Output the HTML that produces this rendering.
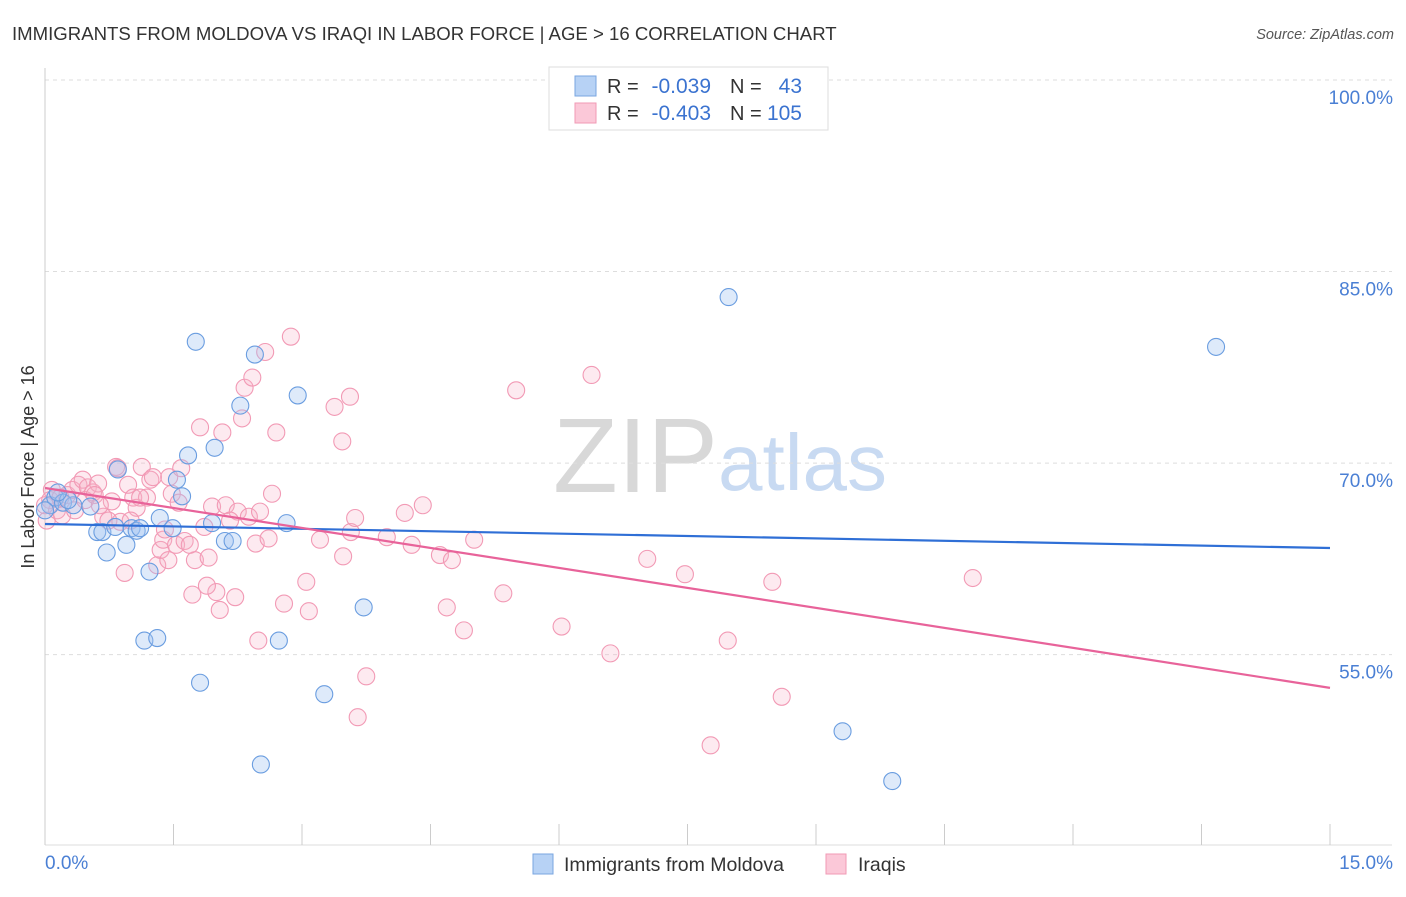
<!DOCTYPE html>
<html><head><meta charset="utf-8"><style>
body{margin:0;background:#fff;font-family:"Liberation Sans",sans-serif;}
svg text{font-family:"Liberation Sans",sans-serif;}
</style></head><body>
<svg width="1406" height="892" viewBox="0 0 1406 892">
<text x="12" y="40" font-size="18.6" fill="#333">IMMIGRANTS FROM MOLDOVA VS IRAQI IN LABOR FORCE | AGE &gt; 16 CORRELATION CHART</text>
<text x="1394" y="39" font-size="14.5" fill="#555" text-anchor="end" font-style="italic">Source: ZipAtlas.com</text>
<g>
<text x="553" y="492" font-size="106" fill="#d8d8d8" font-family="Liberation Serif">ZIP</text>
<text x="718" y="490" font-size="80" fill="#c8daf2">atlas</text>
</g>
<g id="grid"></g>
<g id="axes"></g>
<g id="pts"></g>
<g id="trends"></g>
<text x="22" y="455" font-size="18" fill="#333" text-anchor="middle" transform="rotate(-90 34 455)">In Labor Force | Age &gt; 16</text>
<text x="45" y="869" font-size="19" fill="#4a7fd4">0.0%</text>
<text x="1393" y="869" font-size="19" fill="#4a7fd4" text-anchor="end">15.0%</text>
<g>
<rect x="549" y="67" width="279" height="63" fill="#fff" stroke="#ddd"/>
<rect x="575" y="76" width="21" height="20" fill="#b7d2f5" stroke="#7aa6e0"/>
<rect x="575" y="103" width="21" height="20" fill="#fbc8d8" stroke="#f09ab5"/>
<text x="607" y="93" font-size="20" fill="#333">R =</text>
<text x="711" y="93" font-size="21" fill="#3b73d0" text-anchor="end">-0.039</text>
<text x="730" y="93" font-size="20" fill="#333">N =</text>
<text x="802" y="93" font-size="21" fill="#3b73d0" text-anchor="end">43</text>
<text x="607" y="120" font-size="20" fill="#333">R =</text>
<text x="711" y="120" font-size="21" fill="#3b73d0" text-anchor="end">-0.403</text>
<text x="730" y="120" font-size="20" fill="#333">N =</text>
<text x="802" y="120" font-size="21" fill="#3b73d0" text-anchor="end">105</text>
</g>
<g>
<rect x="533" y="854" width="20" height="20" fill="#b7d2f5" stroke="#7aa6e0"/>
<text x="564" y="871" font-size="19.5" fill="#333">Immigrants from Moldova</text>
<rect x="826" y="854" width="20" height="20" fill="#fbc8d8" stroke="#f09ab5"/>
<text x="858" y="871" font-size="19.5" fill="#333">Iraqis</text>
</g>
</svg>
<script>
const yTicks=[100,85,70,55];
const yTickLabels=["100.0%","85.0%","70.0%","55.0%"];
const xTicks=[0,1.5,3,4.5,6,7.5,9,10.5,12,13.5,15];
const moldovaX=[0.06,0.12,0.21,0.33,0.53,0.61,0.67,0.72,0.82,0.85,0.95,1.01,1.07,1.16,1.22,1.31,1.34,1.49,1.54,1.60,1.67,1.76,1.81,1.95,1.98,2.10,2.19,2.28,2.45,2.52,2.73,2.82,2.95,3.26,3.72,7.98,9.31,9.89,13.67,0,0.27,0.15,1.11];
const moldovaY=[66.7,67.3,66.9,66.7,66.6,64.6,64.6,63.0,65.0,69.5,63.6,64.9,64.7,56.1,61.5,56.3,65.7,64.9,68.7,67.4,70.6,79.5,52.8,65.3,71.2,63.9,63.9,74.5,78.5,46.4,56.1,65.3,75.3,51.9,58.7,83.0,49.0,45.1,79.1,66.3,67.1,67.7,64.9];
const iraqX=[0.02,0.08,0.14,0.2,0.26,0.32,0.39,0.44,0.5,0.56,0.62,0.68,0.74,0.78,0.83,0.88,0.93,0.97,1.03,1.07,1.13,1.19,1.23,1.26,1.31,1.35,1.38,1.45,1.48,1.53,1.56,1.59,1.63,1.72,1.75,1.81,1.86,1.91,1.95,2.0,2.04,2.07,2.11,2.22,2.25,2.3,2.33,2.38,2.42,2.46,2.49,2.51,2.57,2.61,2.65,2.7,2.79,2.87,3.05,3.08,3.21,3.38,3.47,3.48,3.56,3.57,3.62,3.65,3.75,3.99,4.2,4.28,4.41,4.61,4.69,4.75,4.89,5.01,5.35,5.5,6.03,6.38,6.6,7.03,7.47,7.77,7.97,8.49,8.6,10.83,0.06,0.18,0.35,0.47,0.58,0.85,1.0,1.4,1.69,1.89,2.16,1.44,0,0.64,1.11];
const iraqY=[65.5,67.9,66.3,65.9,67.5,67.9,68.3,68.7,68.1,67.7,68.4,65.8,65.5,67.0,69.7,65.4,61.4,68.3,67.3,66.5,69.7,67.3,68.7,68.9,62.0,63.2,64.0,68.9,67.6,63.6,66.9,69.6,63.9,59.7,62.4,72.8,65.0,62.6,66.6,59.9,58.5,72.4,66.7,59.5,66.2,73.5,75.9,65.8,76.7,63.7,56.1,66.2,78.7,64.1,67.6,72.4,59.0,79.9,60.7,58.4,64.0,74.4,71.7,62.7,75.2,64.6,65.7,50.1,53.3,64.2,66.1,63.6,66.7,62.8,58.7,62.4,56.9,64.0,59.8,75.7,57.2,76.9,55.1,62.5,61.3,47.9,56.1,60.7,51.7,61.0,67.1,67.3,66.3,67.1,67.5,69.6,65.5,64.8,63.6,60.4,65.5,62.4,66.7,66.7,67.3];
const trendMoldova=[65.23,63.35];
const trendIraq=[68.05,52.4];
const NS="http://www.w3.org/2000/svg";
const X0=45,X1=1330,Y100=80,PXPER=12.77;
function sx(v){return X0+(X1-X0)*v/15;}
function sy(v){return Y100+(100-v)*PXPER;}
function mk(tag,attrs,parent){const e=document.createElementNS(NS,tag);for(const k in attrs)e.setAttribute(k,attrs[k]);parent.appendChild(e);return e;}
const grid=document.getElementById('grid'),axes=document.getElementById('axes'),pts=document.getElementById('pts'),tr=document.getElementById('trends');
yTicks.forEach((t,i)=>{
 const l=mk('line',{x1:X0,x2:1392,y1:sy(t),y2:sy(t),stroke:'#ddd','stroke-dasharray':'4,4'},grid);
 
 
 const tx=mk('text',{x:1393,y:sy(t)+24,'font-size':19,fill:'#4a7fd4','text-anchor':'end'},grid);
 tx.textContent=yTickLabels[i];
 
 
});
const ya=mk('line',{x1:X0,x2:X0,y1:68,y2:845,stroke:'#ccc'},axes);


const xa=mk('line',{x1:X0,x2:1392,y1:845,y2:845,stroke:'#ddd'},axes);


xTicks.forEach(t=>{
 const l=mk('line',{x1:sx(t),x2:sx(t),y1:824,y2:845,stroke:'#ccc'},axes);
 
 
});
iraqX.forEach((x,i)=>{
 const c=mk('circle',{cx:sx(x),cy:sy(iraqY[i]),r:8.5,fill:'rgba(248,178,200,0.28)',stroke:'#f29ab5','stroke-width':1.1},pts);
 
 
});
moldovaX.forEach((x,i)=>{
 const c=mk('circle',{cx:sx(x),cy:sy(moldovaY[i]),r:8.5,fill:'rgba(160,196,240,0.35)',stroke:'#6a9de0','stroke-width':1.1},pts);
 
 
});
const lb=mk('line',{x1:sx(0),x2:sx(15),y1:sy(trendMoldova[0]),y2:sy(trendMoldova[1]),stroke:'#2f6fd6','stroke-width':2.2},tr);


const lp=mk('line',{x1:sx(0),x2:sx(15),y1:sy(trendIraq[0]),y2:sy(trendIraq[1]),stroke:'#e8639a','stroke-width':2.2},tr);


</script>
</body></html>
